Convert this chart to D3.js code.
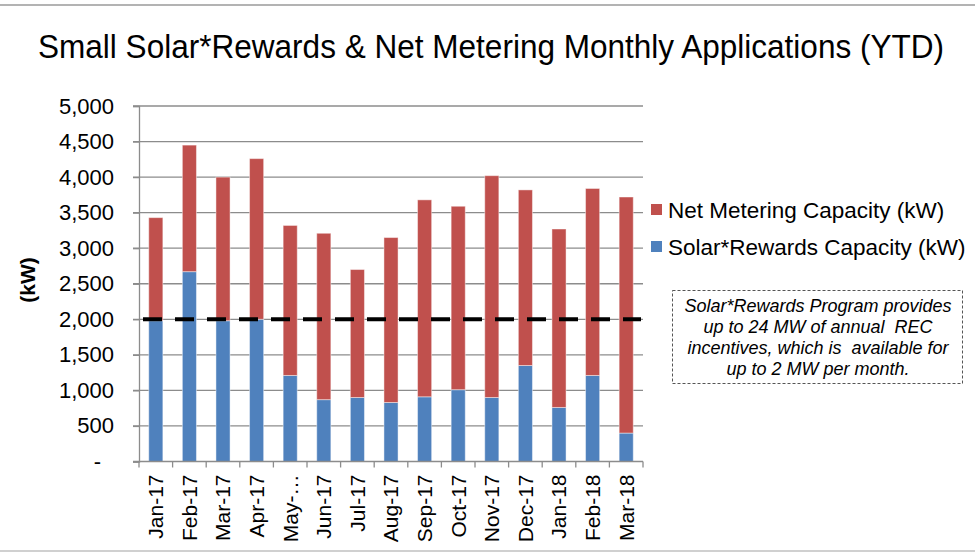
<!DOCTYPE html>
<html>
<head>
<meta charset="utf-8">
<script src="https://cdn.jsdelivr.net/npm/d3@7"></script>
<style>
  body { margin: 0; background: #fff; }
  svg { display: block; font-family: "Liberation Sans", Arial, sans-serif; }
</style>
</head>
<body>
<script>
var months = ["Jan-17", "Feb-17", "Mar-17", "Apr-17", "May-17", "Jun-17", "Jul-17", "Aug-17",
              "Sep-17", "Oct-17", "Nov-17", "Dec-17", "Jan-18", "Feb-18", "Mar-18"];
var monthLabels = ["Jan-17", "Feb-17", "Mar-17", "Apr-17", "May-\u2026", "Jun-17", "Jul-17", "Aug-17",
                   "Sep-17", "Oct-17", "Nov-17", "Dec-17", "Jan-18", "Feb-18", "Mar-18"];
var solarRewards = [1980, 2670, 1980, 2000, 1210, 870, 900, 830, 910, 1010, 900, 1350, 760, 1210, 400];
var netMetering  = [1450, 1780, 2020, 2260, 2110, 2340, 1800, 2320, 2770, 2580, 3120, 2470, 2510, 2630, 3320];
var yTicks = [0, 500, 1000, 1500, 2000, 2500, 3000, 3500, 4000, 4500, 5000];
var monthlyCap = 2000;
var seriesNames = ["Solar*Rewards Capacity (kW)", "Net Metering Capacity (kW)"];
var colors = ["#4F81BD", "#C0504D"];
var noteLines = ["Solar*Rewards Program provides", "up to 24 MW of annual  REC",
                 "incentives, which is  available for", "up to 2 MW per month."];

var width = 975, height = 552;
var plotLeft = 139, plotRight = 643, plotTop = 106, plotBottom = 461.5;

var svg = d3.select("body").append("svg")
    .attr("width", width)
    .attr("height", height);

// frame lines
svg.append("line").attr("x1", 0).attr("x2", width).attr("y1", 5).attr("y2", 5)
    .attr("stroke", "#9a9a9a").attr("stroke-width", 1.5);
svg.append("line").attr("x1", 0).attr("x2", width).attr("y1", 551).attr("y2", 551)
    .attr("stroke", "#d0d0d0").attr("stroke-width", 2);

// title (condensed look: smaller font stretched vertically)
svg.append("text")
    .attr("transform", "translate(491,58) scale(1,1.2)")
    .attr("text-anchor", "middle")
    .attr("textLength", 906)
    .attr("lengthAdjust", "spacingAndGlyphs")
    .style("font-size", "28px")
    .style("fill", "#000")
    .text("Small Solar*Rewards & Net Metering Monthly Applications (YTD)");

var x = d3.scaleBand()
    .domain(months)
    .range([plotLeft, plotRight])
    .paddingInner(0.58)
    .paddingOuter(0.29);

var y = d3.scaleLinear()
    .domain([0, 5000])
    .range([plotBottom, plotTop]);

// gridlines
svg.append("g").selectAll("line")
    .data(yTicks.filter(function(d) { return d > 0; }))
  .enter().append("line")
    .attr("x1", plotLeft - 6).attr("x2", plotRight)
    .attr("y1", function(d) { return y(d); })
    .attr("y2", function(d) { return y(d); })
    .attr("stroke", "#8c8c8c")
    .attr("stroke-width", 1.3);

// y axis
var yAxis = svg.append("g")
    .attr("transform", "translate(" + plotLeft + ",0)")
    .call(d3.axisLeft(y)
      .tickValues(yTicks)
      .tickSize(6)
      .tickPadding(22)
      .tickFormat(function(d) { return d === 0 ? "-" : d3.format(",")(d); }));
yAxis.select(".domain").attr("stroke", "#8c8c8c").attr("stroke-width", 1.3);
yAxis.selectAll(".tick line").attr("stroke", "#8c8c8c").attr("stroke-width", 1.3);
yAxis.selectAll(".tick text")
    .style("font-size", "22px")
    .style("fill", "#000")
    .style("font-family", "'Liberation Sans', Arial, sans-serif")
    .attr("x", function(d) { return d === 0 ? -38 : -25; });

// stacked bars
var rows = months.map(function(m, i) {
  return { month: m, solar: solarRewards[i], net: netMetering[i] };
});
var stack = d3.stack().keys(["solar", "net"]);
var layers = stack(rows);

svg.append("g").selectAll("g")
    .data(layers)
  .enter().append("g")
    .attr("fill", function(d, i) { return colors[i]; })
  .selectAll("rect")
    .data(function(d) { return d; })
  .enter().append("rect")
    .attr("x", function(d) { return x(d.data.month); })
    .attr("width", x.bandwidth())
    .attr("y", function(d) { return y(d[1]); })
    .attr("height", function(d) { return y(d[0]) - y(d[1]); })
    .attr("stroke", "rgba(255,255,255,0.45)")
    .attr("stroke-width", 1);

// x axis
var xAxis = svg.append("g")
    .attr("transform", "translate(0," + plotBottom + ")");
xAxis.append("line")
    .attr("x1", plotLeft - 6).attr("x2", plotRight)
    .attr("stroke", "#8c8c8c").attr("stroke-width", 1.3);
xAxis.selectAll(".bt")
    .data(d3.range(months.length + 1))
  .enter().append("line")
    .attr("class", "bt")
    .attr("x1", function(i) { return plotLeft + i * x.step(); })
    .attr("x2", function(i) { return plotLeft + i * x.step(); })
    .attr("y1", 0).attr("y2", 6)
    .attr("stroke", "#8c8c8c").attr("stroke-width", 1.3);
xAxis.selectAll(".xl")
    .data(months)
  .enter().append("text")
    .attr("class", "xl")
    .attr("transform", function(d) {
      return "translate(" + (x(d) + x.bandwidth() / 2) + ",13) rotate(-90)";
    })
    .attr("dy", "0.35em")
    .attr("text-anchor", "end")
    .style("font-size", "21px")
    .style("fill", "#000")
    .text(function(d, i) { return monthLabels[i]; });

// 2 MW per month line
svg.append("line")
    .attr("x1", plotLeft).attr("x2", plotRight - 2)
    .attr("y1", y(monthlyCap)).attr("y2", y(monthlyCap))
    .attr("stroke", "#000")
    .attr("stroke-width", 4)
    .attr("stroke-dasharray", "19,13")
    .attr("stroke-dashoffset", -4);

// y title
svg.append("text")
    .attr("transform", "translate(35,280) rotate(-90)")
    .attr("text-anchor", "middle")
    .style("font-size", "21px")
    .style("font-weight", "bold")
    .text("(kW)");

// legend
var legend = svg.append("g").selectAll("g")
    .data([1, 0])
  .enter().append("g")
    .attr("transform", function(d, i) { return "translate(651," + (204 + i * 37) + ")"; });
legend.append("rect")
    .attr("width", 11).attr("height", 11)
    .attr("fill", function(d) { return colors[d]; });
legend.append("text")
    .attr("x", 17).attr("y", 6)
    .attr("dy", "0.35em")
    .style("font-size", "22.5px")
    .text(function(d) { return seriesNames[d]; });

// note box
svg.append("rect")
    .attr("x", 672.5).attr("y", 290.5)
    .attr("width", 290).attr("height", 93)
    .attr("fill", "none")
    .attr("stroke", "#555")
    .attr("stroke-width", 1)
    .attr("stroke-dasharray", "3,2");
svg.append("g").selectAll("text")
    .data(noteLines)
  .enter().append("text")
    .attr("x", 818)
    .attr("y", function(d, i) { return 306 + i * 21; })
    .attr("dy", "0.35em")
    .attr("text-anchor", "middle")
    .style("font-size", "18px")
    .style("font-style", "italic")
    .style("white-space", "pre")
    .text(function(d) { return d; });
</script>
</body>
</html>
